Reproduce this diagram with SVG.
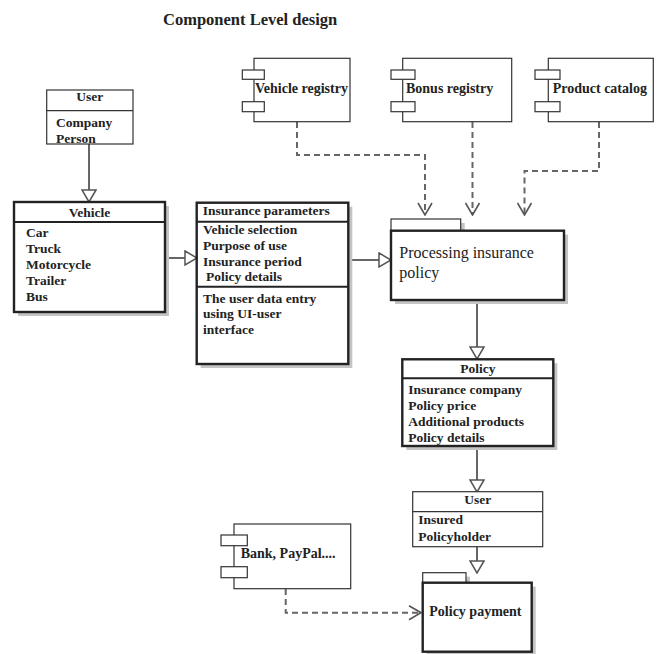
<svg xmlns="http://www.w3.org/2000/svg" width="664" height="654" viewBox="0 0 664 654">
  <style>
    text { font-family: "Liberation Serif", "Times New Roman", serif; fill: #222; }
    .b { font-weight: bold; font-size: 13.5px; }
    .comp { font-weight: bold; font-size: 14px; }
    .title { font-weight: bold; font-size: 16.5px; }
    .reg { font-size: 16px; }
    .thin { fill: #fff; stroke: #333; stroke-width: 1.2; }
    .thick { fill: #fff; stroke: #222; stroke-width: 2.4; }
    .shadow { fill: #c4c4c4; }
    .div { stroke: #333; stroke-width: 1.2; }
    .divk { stroke: #222; stroke-width: 2; }
    .solid { fill: none; stroke: #666; stroke-width: 2; }
    .dash { fill: none; stroke: #666; stroke-width: 2; stroke-dasharray: 6 4; }
  </style>
  <defs>
    <marker id="gen" viewBox="0 0 14 16" refX="13" refY="8" markerWidth="14" markerHeight="16" markerUnits="userSpaceOnUse" orient="auto">
      <path d="M1,1 L13,8 L1,15 Z" fill="#fff" stroke="#555" stroke-width="1.5"/>
    </marker>
    <marker id="dep" viewBox="0 0 14 16" refX="13" refY="8" markerWidth="14" markerHeight="16" markerUnits="userSpaceOnUse" orient="auto">
      <path d="M1,1 L13,8 L1,15" fill="none" stroke="#555" stroke-width="1.6"/>
    </marker>
  </defs>

  <rect width="664" height="654" fill="#fff"/>

  <text class="title" x="163" y="25">Component Level design</text>

  <!-- connectors -->
  <g id="connectors">
    <path class="solid" d="M89,144 V202" marker-end="url(#gen)"/>
    <path class="solid" d="M165,258 H197" marker-end="url(#gen)"/>
    <path class="solid" d="M348,260 H391" marker-end="url(#gen)"/>
    <path class="dash" d="M297,122 V155 H425 V215" marker-end="url(#dep)"/>
    <path class="dash" d="M472.5,122 V215" marker-end="url(#dep)"/>
    <path class="dash" d="M599,122 V171 H524.5 V215" marker-end="url(#dep)"/>
    <path class="solid" d="M477,300 V359" marker-end="url(#gen)"/>
    <path class="solid" d="M477,446 V492" marker-end="url(#gen)"/>
    <path class="solid" d="M477,547 V573" marker-end="url(#gen)"/>
    <path class="dash" d="M285.7,589 V612.7 H421" marker-end="url(#dep)"/>
  </g>

  <!-- User (top) -->
  <g id="user-top">
    <rect class="thin" x="46.7" y="90" width="86.3" height="54"/>
    <line class="div" x1="46.7" y1="110.7" x2="133" y2="110.7"/>
    <text class="b" x="89.8" y="101" text-anchor="middle">User</text>
    <text class="b" x="56" y="126.7">Company</text>
    <text class="b" x="56" y="142.7">Person</text>
  </g>

  <!-- Vehicle -->
  <g id="vehicle">
    <rect class="shadow" x="18" y="206" width="151" height="110"/>
    <rect class="thick" x="14" y="202" width="151" height="110"/>
    <line class="divk" x1="14" y1="222" x2="165" y2="222"/>
    <text class="b" x="89.5" y="216.7" text-anchor="middle">Vehicle</text>
    <text class="b" x="26" y="236.7">Car</text>
    <text class="b" x="26" y="252.7">Truck</text>
    <text class="b" x="26" y="268.7">Motorcycle</text>
    <text class="b" x="26" y="284.7">Trailer</text>
    <text class="b" x="26" y="300.7">Bus</text>
  </g>

  <!-- Insurance parameters -->
  <g id="insurance-parameters">
    <rect class="shadow" x="200.7" y="206.7" width="151.6" height="161.3"/>
    <rect class="thick" x="196.7" y="202.7" width="151.6" height="161.3"/>
    <line class="divk" x1="196.7" y1="221.7" x2="348.3" y2="221.7"/>
    <line class="divk" x1="196.7" y1="286.7" x2="348.3" y2="286.7"/>
    <text class="b" x="202.7" y="215">Insurance parameters</text>
    <text class="b" x="203" y="234.3">Vehicle selection</text>
    <text class="b" x="203" y="250">Purpose of use</text>
    <text class="b" x="203" y="266">Insurance period</text>
    <text class="b" x="206" y="280.5">Policy details</text>
    <text class="b" x="203" y="303.3">The user data entry</text>
    <text class="b" x="203" y="318.3">using UI-user</text>
    <text class="b" x="203" y="334">interface</text>
  </g>

  <!-- Vehicle registry -->
  <g id="vehicle-registry">
    <rect class="thin" x="254" y="58.3" width="96" height="63.4"/>
    <rect class="thin" x="242.3" y="70" width="22" height="9.3"/>
    <rect class="thin" x="242.3" y="101.7" width="22" height="10"/>
    <text class="comp" x="255" y="93.3">Vehicle registry</text>
  </g>

  <!-- Bonus registry -->
  <g id="bonus-registry">
    <rect class="thin" x="402.7" y="58.3" width="109" height="63.4"/>
    <rect class="thin" x="391" y="70" width="24" height="9.3"/>
    <rect class="thin" x="391" y="101.7" width="24" height="10"/>
    <text class="comp" x="406" y="93.3">Bonus registry</text>
  </g>

  <!-- Product catalog -->
  <g id="product-catalog">
    <rect class="thin" x="548.3" y="58.3" width="105" height="63.4"/>
    <rect class="thin" x="535" y="70" width="25" height="9.3"/>
    <rect class="thin" x="535" y="101.7" width="25" height="10"/>
    <text class="comp" x="552.7" y="93.3">Product catalog</text>
  </g>

  <!-- Processing insurance policy (package) -->
  <g id="processing">
    <rect class="shadow" x="395" y="223" width="69.7" height="11.7"/>
    <rect class="shadow" x="395" y="234.7" width="173" height="69.3"/>
    <rect class="thin" x="391" y="219" width="69.7" height="11.7" stroke-width="1.6"/>
    <rect class="thick" x="391" y="230.7" width="173" height="69.3"/>
    <text class="reg" x="399.3" y="258.3">Processing insurance</text>
    <text class="reg" x="399.3" y="278.3">policy</text>
  </g>

  <!-- Policy -->
  <g id="policy">
    <rect class="shadow" x="406.3" y="363.3" width="151" height="86.7"/>
    <rect class="thick" x="402.3" y="359.3" width="151" height="86.7"/>
    <line class="divk" x1="402.3" y1="378.3" x2="553.3" y2="378.3"/>
    <text class="b" x="477.8" y="372.7" text-anchor="middle">Policy</text>
    <text class="b" x="408.3" y="394">Insurance company</text>
    <text class="b" x="408.3" y="410">Policy price</text>
    <text class="b" x="408.3" y="426">Additional products</text>
    <text class="b" x="408.3" y="442">Policy details</text>
  </g>

  <!-- User (insured) -->
  <g id="user-insured">
    <rect class="thin" x="412.7" y="491.7" width="130" height="55"/>
    <line class="div" x1="412.7" y1="511.7" x2="542.7" y2="511.7"/>
    <text class="b" x="477.7" y="503.5" text-anchor="middle">User</text>
    <text class="b" x="418.3" y="524">Insured</text>
    <text class="b" x="418.3" y="540.7">Policyholder</text>
  </g>

  <!-- Bank, PayPal -->
  <g id="bank-paypal">
    <rect class="thin" x="234" y="524" width="116.7" height="64.7"/>
    <rect class="thin" x="221" y="535" width="26.3" height="10.7"/>
    <rect class="thin" x="221" y="566.7" width="26.3" height="11"/>
    <text class="comp" x="240.7" y="558.3">Bank, PayPal....</text>
  </g>

  <!-- Policy payment (package) -->
  <g id="policy-payment">
    <rect class="shadow" x="426.7" y="576.7" width="43.3" height="10"/>
    <rect class="shadow" x="426.7" y="586.7" width="109" height="69"/>
    <rect class="thin" x="422.7" y="572.7" width="43.3" height="10" stroke-width="1.6"/>
    <rect class="thick" x="422.7" y="582.7" width="109" height="69"/>
    <text class="comp" x="429.3" y="616">Policy payment</text>
  </g>
</svg>
